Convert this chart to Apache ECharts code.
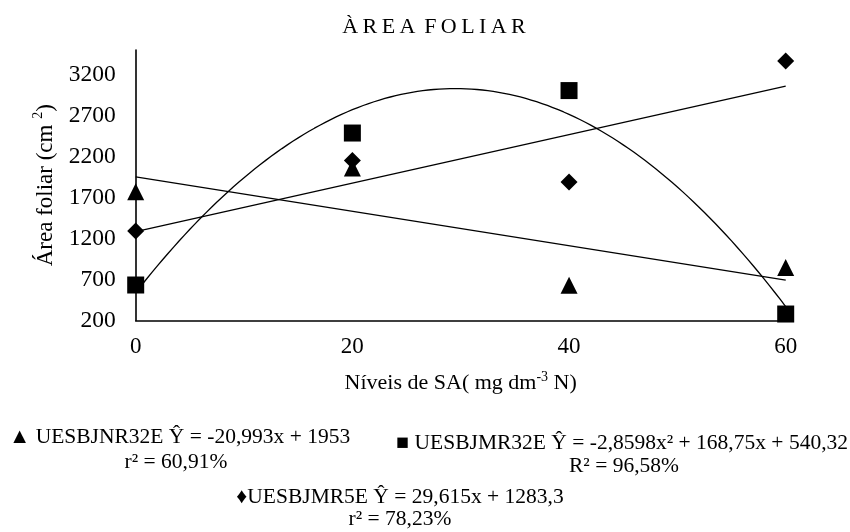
<!DOCTYPE html>
<html>
<head>
<meta charset="utf-8">
<script src="https://cdn.jsdelivr.net/npm/echarts@6/dist/echarts.min.js"></script>
<style>
  html, body { margin: 0; padding: 0; background: #fff; }
  #chart { width: 850px; height: 532px; }
</style>
</head>
<body>
<div id="chart"></div>
<script>
// Doses of SA (mg dm-3 N)
const xLevels = [0, 20, 40, 60];
const xTicks = [0, 20, 40, 60];
const yTicks = [200, 700, 1200, 1700, 2200, 2700, 3200];

// Leaf area (cm²) per genotype
const nr32eValues = [1770, 2060, 629, 846];   // UESBJNR32E  (triangles)
const mr32eValues = [633, 2487, 3005, 279];   // UESBJMR32E  (squares)
const mr5eValues  = [1291, 2151, 1889, 3365]; // UESBJMR5E   (diamonds)

// Fitted regression coefficients [a0, a1, a2] for y = a0 + a1·x + a2·x²
const nr32eFit = [1953, -20.993, 0];
const mr32eFit = [540.32, 168.75, -2.8598];
const mr5eFit  = [1283.3, 29.615, 0];

// Equation captions
const nr32eEq = '▲ UESBJNR32E Ŷ = -20,993x + 1953';
const nr32eR2 = 'r² = 60,91%';
const mr32eEq = '■ UESBJMR32E Ŷ = -2,8598x² + 168,75x + 540,32';
const mr32eR2 = 'R² = 96,58%';
const mr5eEq  = '♦UESBJMR5E Ŷ = 29,615x + 1283,3';
const mr5eR2  = 'r² = 78,23%';

const FONT = '"Liberation Serif", "Times New Roman", serif';

function pairs(xs, ys) { return xs.map((x, i) => [x, ys[i]]); }

// Evaluate a fitted polynomial across the dose range
function fitted(coef, steps) {
  const x0 = xLevels[0], x1 = xLevels[xLevels.length - 1];
  const out = [];
  for (let i = 0; i <= steps; i++) {
    const x = x0 + (x1 - x0) * i / steps;
    out.push([x, coef[0] + coef[1] * x + coef[2] * x * x]);
  }
  return out;
}

const trendStyle = { color: '#000', width: 1.3 };
function trend(coef, steps) {
  return {
    type: 'line', data: fitted(coef, steps), showSymbol: false, smooth: false,
    lineStyle: trendStyle, silent: true, z: 2, clip: false
  };
}
function marks(values, symbol) {
  return {
    type: 'scatter', data: pairs(xLevels, values), symbol: symbol, symbolSize: 17,
    itemStyle: { color: '#000', opacity: 1 }, z: 3
  };
}

function caption(text, x, y, align) {
  return {
    type: 'text', x: x, y: y,
    style: { text: text, fill: '#000', font: '21.5px ' + FONT, textAlign: align, textVerticalAlign: 'middle' }
  };
}

const chart = echarts.init(document.getElementById('chart'), null, { renderer: 'canvas' });
chart.setOption({
  animation: false,
  backgroundColor: '#fff',
  grid: { left: 135.7, right: 64.3, top: 50, bottom: 211.5, containLabel: false },
  xAxis: {
    type: 'value', min: 0, max: 60, interval: 20,
    axisLine: { show: true, lineStyle: { color: '#000', width: 1.6 } },
    axisTick: { show: false },
    splitLine: { show: false },
    axisLabel: { color: '#000', fontSize: 23, fontFamily: FONT, margin: 15, customValues: xTicks,
      formatter: v => String(v) },
    name: '{t|Níveis de SA( mg dm}{s|-3}{t| N)}',
    nameLocation: 'middle', nameGap: 50,
    nameTextStyle: {
      rich: {
        t: { fontSize: 22, fontFamily: FONT, color: '#000', verticalAlign: 'bottom', lineHeight: 24 },
        s: { fontSize: 14, fontFamily: FONT, color: '#000', verticalAlign: 'top', lineHeight: 24 }
      }
    }
  },
  yAxis: {
    type: 'value', min: 200, max: 3500,
    axisLine: { show: true, lineStyle: { color: '#000', width: 1.6 } },
    axisTick: { show: false },
    splitLine: { show: false },
    axisLabel: { color: '#000', fontSize: 23.5, fontFamily: FONT, margin: 20, customValues: yTicks,
      formatter: v => String(v) },
    name: '{t|Área foliar (cm }{s|2}{t|)}',
    nameLocation: 'middle', nameRotate: 90, nameGap: 73,
    nameTextStyle: {
      rich: {
        t: { fontSize: 23, fontFamily: FONT, color: '#000', verticalAlign: 'bottom', lineHeight: 26 },
        s: { fontSize: 14, fontFamily: FONT, color: '#000', verticalAlign: 'top', lineHeight: 26 }
      }
    }
  },
  series: [
    trend(nr32eFit, 1),
    trend(mr32eFit, 120),
    trend(mr5eFit, 1),
    marks(nr32eValues, 'triangle'),
    marks(mr32eValues, 'rect'),
    marks(mr5eValues, 'diamond')
  ],
  graphic: [
    {
      type: 'text', x: 434, y: 27.5,
      style: {
        text: 'À\u2009R\u2009E\u2009A\u2009\u2009F\u2009O\u2009L\u2009I\u2009A\u2009R',
        fill: '#000', font: '22px ' + FONT, textAlign: 'center', textVerticalAlign: 'middle'
      }
    },
    caption(nr32eEq, 9, 437, 'left'),
    caption(nr32eR2, 176, 462, 'center'),
    caption(mr32eEq, 848, 443, 'right'),
    caption(mr32eR2, 624, 466, 'center'),
    caption(mr5eEq, 400, 497, 'center'),
    caption(mr5eR2, 400, 519, 'center')
  ]
});
</script>
</body>
</html>
